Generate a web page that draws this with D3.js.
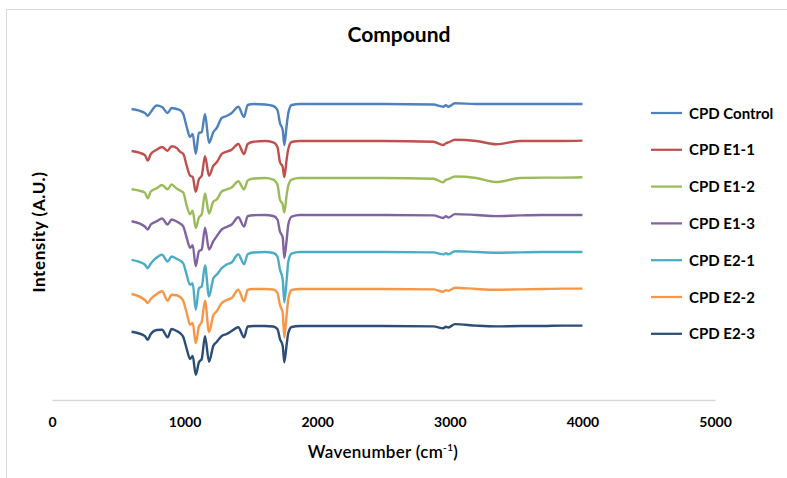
<!DOCTYPE html>
<html>
<head>
<meta charset="utf-8">
<script src="https://cdn.jsdelivr.net/npm/d3@7"></script>
<style>
  body { margin: 0; background: #fff; }
  text { font-family: Lato, "Open Sans", sans-serif; fill: #000; }
</style>
</head>
<body>
<div id="chart"></div>
<script>
// wavenumber grid (cm-1) shared by every spectrum
const wavenumbers = [600, 700, 722, 745, 790, 830, 872, 902, 940, 965, 990, 1016, 1041, 1061, 1084, 1108, 1129, 1154, 1184, 1217, 1242, 1280, 1317, 1355, 1405, 1448, 1476, 1520, 1606, 1669, 1700, 1719, 1740, 1752, 1770, 1782, 1807, 1870, 2000, 2500, 2876, 2951, 2970, 2989, 3039, 3200, 3350, 3530, 3700, 3850, 4000];

const seriesNames = ["CPD Control", "CPD E1-1", "CPD E1-2", "CPD E1-3", "CPD E2-1", "CPD E2-2", "CPD E2-3"];
const seriesOffsets = [80, 70, 60, 50, 40, 30, 20];

const cpdControl = [-1.35, -2.43, -3.16, -2.16, -0.41, -0.81, -2.43, -1.08, -1.35, -1.62, -2.7, -6.22, -8.92, -8.11, -13.5, -7.84, -7.57, -2.7, -10.5, -7.57, -6.49, -3.78, -3.24, -2.43, -0.73, -3.51, -0.27, 0, -0.14, -0.54, -1.62, -5.13, -7.03, -11.1, -5.68, -2.43, -0.27, 0, 0, 0, -0.14, -0.73, -0.35, -0.73, 0.19, 0, 0, 0, 0, 0, 0];
const cpdE11 = [-2.7, -3.78, -5.3, -3.51, -2.35, -1.62, -2.62, -1.43, -1.89, -2.89, -3.51, -6.68, -9.38, -9.7, -13.7, -10.3, -9.38, -4.14, -9.38, -6.68, -5.76, -3.51, -2.89, -2.35, -0.81, -3.51, -0.81, -0.19, 0, -0.35, -1.62, -5.68, -7.03, -9.73, -4.86, -2.16, -0.27, 0, 0, 0, -0.2, -1.08, -0.6, -0.4, 0.35, 0, -0.89, 0, 0, 0, 0.1];
const cpdE12 = [-3.03, -3.92, -5.46, -3.65, -2.76, -1.89, -3.03, -1.76, -2.84, -3.38, -3.92, -7.51, -9.78, -8.86, -13.5, -10.7, -9.78, -4.19, -9.59, -6.35, -5.81, -3.65, -3.11, -2.57, -0.86, -3.11, -0.68, -0.14, 0, -0.41, -1.76, -5.81, -7.16, -9.32, -4.46, -2.03, -0.41, 0, 0, 0, -0.2, -1.19, -0.5, -0.3, 0.4, 0, -1.1, 0, 0.1, 0.1, 0.2];
const cpdE13 = [-1.68, -3.11, -3.92, -2.57, -1.68, -0.95, -2.57, -1.22, -1.76, -2.3, -3.11, -6.16, -8.86, -8.16, -13.8, -9.78, -9.32, -3.46, -9.32, -7.08, -5.73, -3.92, -3.24, -2.57, -0.59, -3.11, -0.32, -0.05, 0, -0.27, -1.22, -4.46, -6.08, -11.6, -6.62, -2.57, -0.41, 0, 0, 0, -0.1, -0.8, -0.3, -0.7, 0.25, 0, -0.3, -0.1, 0, 0, 0];
const cpdE21 = [-2.11, -3.38, -4.38, -3.11, -1.49, -0.76, -2.57, -1.22, -1.84, -2.3, -3.11, -6.16, -8.86, -8.43, -15.6, -9.78, -9.32, -3.65, -12.0, -7.08, -6.16, -4.38, -3.38, -2.84, -0.59, -3.3, -0.59, -0.14, 0, -0.27, -1.22, -4.73, -7.43, -13.6, -7.43, -2.57, -0.41, 0, 0, 0, -0.1, -0.65, -0.3, -0.65, 0.22, 0, -0.2, -0.1, 0, 0, 0];
const cpdE22 = [-1.35, -2.97, -3.78, -2.7, -1.35, -0.62, -3.16, -1.54, -1.7, -2.16, -3.24, -6.49, -9.65, -9.19, -14.6, -10.1, -8.92, -3.16, -11.6, -7.11, -6.03, -3.78, -2.97, -2.43, -0.19, -3.32, -0.19, 0, 0, -0.14, -1.08, -4.32, -6.49, -13.1, -6.76, -2.7, -0.27, 0, 0, 0, -0.1, -0.73, -0.3, -0.5, 0.35, 0, -0.2, -0.1, 0, 0.1, 0.1];
const cpdE23 = [-1.54, -2.7, -3.7, -2.16, -1.08, -1.0, -3.05, -0.81, -1.35, -1.89, -2.97, -6.22, -8.92, -8.11, -13.2, -9.81, -8.92, -2.78, -9.65, -5.32, -4.32, -2.7, -2.16, -1.35, -0.35, -3.05, -0.14, 0, 0, -0.14, -0.81, -3.51, -5.41, -9.81, -4.86, -1.89, -0.27, 0, 0, 0, -0.1, -0.6, -0.2, -0.4, 0.5, 0.1, -0.1, 0, 0, 0.1, 0.1];

const xTicks = [0, 1000, 2000, 3000, 4000, 5000];
const colors = ["#4F81BD", "#C0504D", "#9BBB59", "#8064A2", "#4BACC6", "#F79646", "#2C4D75"];

const allSeries = [cpdControl, cpdE11, cpdE12, cpdE13, cpdE21, cpdE22, cpdE23];

const width = 787;
const height = 478;

const svg = d3.select("#chart")
  .append("svg")
  .attr("width", width)
  .attr("height", height);

// chart area border (runs off the bottom/right edge like the original)
svg.append("rect")
  .attr("x", 6.5)
  .attr("y", 9.5)
  .attr("width", 800)
  .attr("height", 500)
  .attr("fill", "none")
  .attr("stroke", "#D9D9D9");

const xScale = d3.scaleLinear()
  .domain([0, 5000])
  .range([52, 715]);

const yScale = d3.scaleLinear()
  .domain([0, 100])
  .range([400, 30]);

// x axis: line + bold labels, no ticks
const xAxis = svg.append("g")
  .attr("transform", "translate(0, 400)")
  .call(d3.axisBottom(xScale).tickValues(xTicks).tickSize(0).tickPadding(17).tickFormat(d3.format("d")));

xAxis.select(".domain").attr("stroke", "#D9D9D9").attr("stroke-width", 1.5);
xAxis.selectAll("text")
  .style("font-family", "Lato, sans-serif")
  .style("font-size", "14px")
  .style("font-weight", "bold")
  .attr("fill", "#000");

const line = d3.line()
  .x((d, i) => xScale(wavenumbers[i]))
  .y(d => d.y)
  .curve(d3.curveMonotoneX);

allSeries.forEach((values, s) => {
  const pts = values.map(v => ({ y: yScale(v + seriesOffsets[s]) }));
  svg.append("path")
    .datum(pts)
    .attr("fill", "none")
    .attr("stroke", colors[s])
    .attr("stroke-width", 2.4)
    .attr("stroke-linejoin", "round")
    .attr("d", line);
});

// legend
const legend = svg.append("g");
seriesNames.forEach((name, i) => {
  const ly = 113 + i * 36.8;
  legend.append("line")
    .attr("x1", 651).attr("x2", 682)
    .attr("y1", ly).attr("y2", ly)
    .attr("stroke", colors[i])
    .attr("stroke-width", 2.25);
  legend.append("text")
    .attr("x", 689)
    .attr("y", ly + 5.5)
    .style("font-size", "15px")
    .style("font-weight", "bold")
    .text(name);
});

svg.append("text")
  .attr("x", 399)
  .attr("y", 42)
  .attr("text-anchor", "middle")
  .style("font-size", "21px")
  .style("font-weight", "bold")
  .text("Compound");

svg.append("text")
  .attr("transform", "translate(45, 232) rotate(-90)")
  .attr("text-anchor", "middle")
  .style("font-size", "17px")
  .style("font-weight", "bold")
  .style("letter-spacing", "0.6px")
  .text("Intensity (A.U.)");

const xLabel = svg.append("text")
  .attr("x", 383)
  .attr("y", 458)
  .attr("text-anchor", "middle")
  .style("font-size", "17px")
  .style("font-weight", "600")
  .style("letter-spacing", "0.3px");
xLabel.append("tspan").text("Wavenumber (cm");
xLabel.append("tspan").attr("dy", -7).style("font-size", "10px").text("-1");
xLabel.append("tspan").attr("dy", 7).text(")");
</script>
</body>
</html>
